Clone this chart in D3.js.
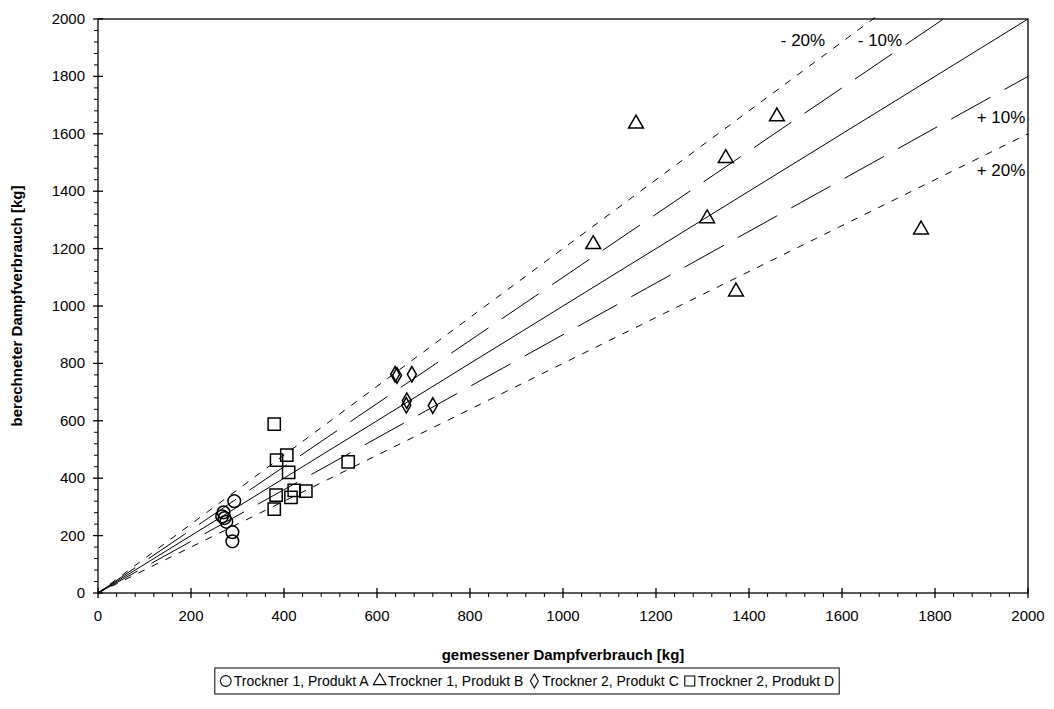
<!DOCTYPE html>
<html><head><meta charset="utf-8">
<script src="https://cdn.jsdelivr.net/npm/d3@7"></script>
<style>body{margin:0;background:#fff}svg{display:block}text{font-family:"Liberation Sans",Arial,sans-serif}</style>
</head><body><svg id="c" width="1054" height="709"></svg>
<script>
// data: [gemessen, berechnet]
const produktA = [[293,320],[270,281],[267,267],[272,261],[276,248],[289,212],[289,180]];
const produktB = [[1157,1635],[1460,1660],[1350,1515],[1065,1215],[1310,1305],[1372,1050],[1770,1266]];
const produktC = [[639,762],[643,758],[675,762],[664,670],[663,654],[720,653]];
const produktD = [[379,588],[384,463],[406,480],[410,420],[383,341],[379,292],[415,333],[422,358],[447,355],[538,457]];
const seriesNames = ["Trockner 1, Produkt A","Trockner 1, Produkt B","Trockner 2, Produkt C","Trockner 2, Produkt D"];
const xTicks = [0,200,400,600,800,1000,1200,1400,1600,1800,2000];
const yTicks = [0,200,400,600,800,1000,1200,1400,1600,1800,2000];
const refFactors = [1.2,1.1,1.0,0.9,0.8];
const refLabels = ["- 20%","- 10%","","+ 10%","+ 20%"];

const svg = d3.select("#c");
const L=98,R=1028,T=19,B=593;
const x = d3.scaleLinear().domain([0,2000]).range([L,R]);
const y = d3.scaleLinear().domain([0,2000]).range([B,T]);

// reference lines
const dashes = {1.2:"7,8",1.1:"45,16",1.0:null,0.9:"45,16",0.8:"7,8"};
refFactors.forEach(f=>{
  const xEnd = Math.min(2000, 2020/f);
  svg.append("line").attr("x1",x(0)).attr("y1",y(0)).attr("x2",x(xEnd)).attr("y2",y(xEnd*f))
    .attr("stroke","#000").attr("stroke-width",1).attr("stroke-dasharray",dashes[f]);
});

// plot frame
svg.append("rect").attr("x",L).attr("y",T).attr("width",R-L).attr("height",B-T)
  .attr("fill","none").attr("stroke","#000").attr("stroke-width",1.3);

// axes
const minor = d3.range(0,2001,40).filter(v=>v%200!==0);
const gx = svg.append("g");
xTicks.forEach(v=>{
  gx.append("line").attr("x1",x(v)).attr("x2",x(v)).attr("y1",B-5).attr("y2",B+5).attr("stroke","#000").attr("stroke-width",1.3);
  gx.append("text").attr("x",x(v)).attr("y",B+28).attr("text-anchor","middle").attr("font-size",15).text(v);
});
minor.forEach(v=>{
  gx.append("line").attr("x1",x(v)).attr("x2",x(v)).attr("y1",B).attr("y2",B+4).attr("stroke","#000").attr("stroke-width",1);
});
const gy = svg.append("g");
yTicks.forEach(v=>{
  gy.append("line").attr("x1",L-5).attr("x2",L+5).attr("y1",y(v)).attr("y2",y(v)).attr("stroke","#000").attr("stroke-width",1.3);
  gy.append("text").attr("x",L-13).attr("y",y(v)+5).attr("text-anchor","end").attr("font-size",15).text(v);
});
minor.forEach(v=>{
  gy.append("line").attr("x1",L-4).attr("x2",L).attr("y1",y(v)).attr("y2",y(v)).attr("stroke","#000").attr("stroke-width",1);
});

// axis titles
svg.append("text").attr("x",(L+R)/2).attr("y",660).attr("text-anchor","middle").attr("font-size",15).attr("font-weight","bold").text("gemessener Dampfverbrauch [kg]");
svg.append("text").attr("transform",`translate(22,${(T+B)/2}) rotate(-90)`).attr("text-anchor","middle").attr("font-size",15).attr("font-weight","bold").text("berechneter Dampfverbrauch [kg]");

// reference labels
const lab = [["- 20%",803,46],["- 10%",880,46],["+ 10%",1001,123],["+ 20%",1001,176]];
lab.forEach(d=>svg.append("text").attr("x",d[1]).attr("y",d[2]).attr("text-anchor","middle").attr("font-size",17).text(d[0]));

// markers
const sym = {
  A: d3.symbol().type(d3.symbolCircle).size(125),
  B: d3.symbol().type(d3.symbolTriangle).size(95),
  C: d3.symbol().type(d3.symbolDiamond).size(70),
  D: d3.symbol().type(d3.symbolSquare).size(150)
};
function drawSeries(data,s){
  svg.append("g").selectAll("path").data(data).join("path")
    .attr("transform",d=>`translate(${x(d[0])},${y(d[1])})`)
    .attr("d",s).attr("fill","none").attr("stroke","#000").attr("stroke-width",1.5);
}
drawSeries(produktA,sym.A);
drawSeries(produktB,sym.B);
drawSeries(produktC,sym.C);
drawSeries(produktD,sym.D);

// legend
const lg = svg.append("g");
const box = lg.append("rect").attr("y",668).attr("height",26).attr("fill","#fff").attr("stroke","#000").attr("stroke-width",1);
const legSyms=[d3.symbol().type(d3.symbolCircle).size(90),d3.symbol().type(d3.symbolTriangle).size(70),d3.symbol().type(d3.symbolDiamond).size(55),d3.symbol().type(d3.symbolSquare).size(100)];
const items = lg.append("g");
let lx = 0;
seriesNames.forEach((n,i)=>{
  items.append("path").attr("transform",`translate(${lx+6},681)`).attr("d",legSyms[i]).attr("fill","none").attr("stroke","#000").attr("stroke-width",1.1);
  const t = items.append("text").attr("x",lx+14).attr("y",686).attr("font-size",14).text(n);
  lx += 14 + t.node().getComputedTextLength() + 5;
});
const totalW = lx - 5;
const startX = 527 - totalW/2;
items.attr("transform",`translate(${startX},0)`);
box.attr("x",startX-5).attr("width",totalW+10);
</script></body></html>
